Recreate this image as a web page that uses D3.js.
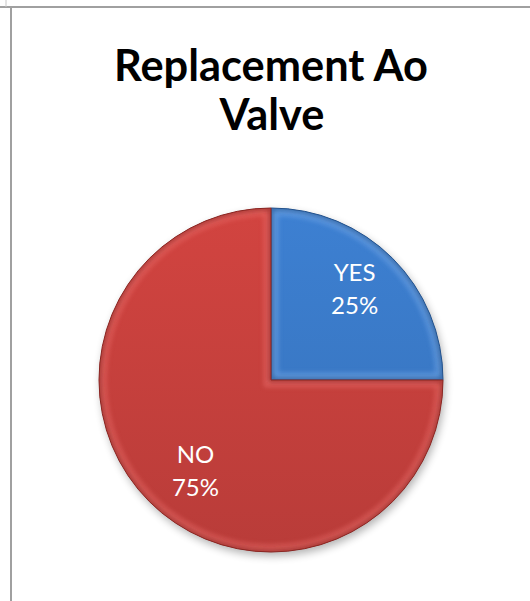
<!DOCTYPE html>
<html>
<head>
<meta charset="utf-8">
<script src="https://cdn.jsdelivr.net/npm/d3@7"></script>
<style>
  html, body { margin: 0; padding: 0; background: #fff; }
  svg { display: block; }
</style>
</head>
<body>
<svg id="chart" width="530" height="601"></svg>
<script>
// chart data
var titleLines = ['Replacement Ao', 'Valve'];
var categories = ['YES', 'NO'];
var values = [25, 75];
var colors = ['#3a79c7', '#c7403d'];
var lightColors = ['#7fb0ee', '#f07472'];
var darkColors = ['#24528c', '#8a2623'];

(function() {
    var svg = d3.select('#chart');
    var defs = svg.append('defs');

    // frame lines (part of the slide layout)
    svg.append('line')
    .attr('x1', 0).attr('y1', 7).attr('x2', 530).attr('y2', 7)
    .style('stroke', '#a0a0a0').style('stroke-width', 2);
    svg.append('line')
    .attr('x1', 11).attr('y1', 8).attr('x2', 11).attr('y2', 601)
    .style('stroke', '#a0a0a0').style('stroke-width', 2);
    svg.append('line')
    .attr('x1', 6).attr('y1', 0).attr('x2', 6).attr('y2', 7)
    .style('stroke', '#c8c8c8').style('stroke-width', 1);

    // title
    var font = 'Lato, "Open Sans", "Liberation Sans", sans-serif';
    var t1 = svg.append('text')
    .attr('x', 271).attr('y', 81)
    .attr('text-anchor', 'middle')
    .style('font-family', font)
    .style('font-weight', 'bold')
    .style('font-size', '40px')
    .style('fill', '#000')
    .text(titleLines[0]);
    // fit to width of the reference title
    var w = t1.node().getComputedTextLength();
    var fs = 40 * 314 / w;
    t1.style('font-size', fs + 'px');
    svg.append('text')
    .attr('x', 272).attr('y', 130)
    .attr('text-anchor', 'middle')
    .style('font-family', font)
    .style('font-weight', 'bold')
    .style('font-size', fs + 'px')
    .style('fill', '#000')
    .text(titleLines[1]);

    // pie
    var cx = 271, cy = 380, r = 172;
    var pie = d3.pie().sort(null).value(function(d) { return d; });
    var arcs = pie(values);
    var arc = d3.arc().innerRadius(0).outerRadius(r);

    defs.append('filter').attr('id', 'shadow')
    .attr('x', '-20%').attr('y', '-20%').attr('width', '140%').attr('height', '140%')
    .append('feGaussianBlur').attr('stdDeviation', 4);

    defs.append('filter').attr('id', 'soft')
    .attr('x', '-10%').attr('y', '-10%').attr('width', '120%').attr('height', '120%')
    .append('feGaussianBlur').attr('stdDeviation', 2.5);

    // top-to-bottom shading of each slice
    categories.forEach(function(c, i) {
        var g = defs.append('linearGradient').attr('id', 'grad' + i)
        .attr('gradientUnits', 'userSpaceOnUse')
        .attr('x1', 0).attr('y1', -r).attr('x2', 0).attr('y2', r);
        g.append('stop').attr('offset', '0%').attr('stop-color', d3.color(colors[i]).brighter(0.15));
        g.append('stop').attr('offset', '100%').attr('stop-color', d3.color(colors[i]).darker(0.2));

        defs.append('clipPath').attr('id', 'clip' + i)
        .append('path').attr('d', arc(arcs[i]));
    });

    var pg = svg.append('g').attr('transform', 'translate(' + cx + ',' + cy + ')');

    pg.append('circle')
    .attr('cx', 2).attr('cy', 4).attr('r', r)
    .style('fill', '#000').style('opacity', 0.3)
    .attr('filter', 'url(#shadow)');

    var slices = pg.selectAll('g.slice')
    .data(arcs)
    .enter().append('g')
    .attr('class', 'slice');

    slices.append('path')
    .attr('d', arc)
    .style('fill', function(d, i) { return 'url(#grad' + i + ')'; });

    // bevel: light band just inside the edges
    slices.append('g')
    .attr('clip-path', function(d, i) { return 'url(#clip' + i + ')'; })
    .append('path')
    .attr('d', arc)
    .style('fill', 'none')
    .style('stroke', function(d, i) { return lightColors[i]; })
    .style('stroke-width', 14)
    .style('opacity', 0.55)
    .attr('filter', 'url(#soft)');

    // bevel: dark rim
    slices.append('g')
    .attr('clip-path', function(d, i) { return 'url(#clip' + i + ')'; })
    .append('path')
    .attr('d', arc)
    .style('fill', 'none')
    .style('stroke', function(d, i) { return darkColors[i]; })
    .style('stroke-width', 4)
    .style('opacity', 0.8)
    .attr('filter', 'url(#soft)');

    slices.append('path')
    .attr('d', arc)
    .style('fill', 'none')
    .style('stroke', function(d, i) { return darkColors[i]; })
    .style('stroke-width', 1);

    // labels
    var nudge = [[-4, -2], [12, 4]];
    var labelArc = d3.arc().innerRadius(r * 0.72).outerRadius(r * 0.72);
    var lbl = pg.selectAll('text.lbl')
    .data(arcs)
    .enter().append('text')
    .attr('class', 'lbl')
    .attr('text-anchor', 'middle')
    .style('font-family', font)
    .style('font-size', '24px')
    .style('fill', '#fff')
    .attr('transform', function(d, i) {
        var c = labelArc.centroid(d);
        return 'translate(' + (c[0] + nudge[i][0]) + ',' + (c[1] + nudge[i][1]) + ')';
    });
    lbl.append('tspan').attr('x', 0).attr('y', -9)
    .text(function(d, i) { return categories[i]; });
    lbl.append('tspan').attr('x', 0).attr('y', 24)
    .text(function(d) { return Math.round(d.value) + '%'; });
})();
</script>
</body>
</html>
